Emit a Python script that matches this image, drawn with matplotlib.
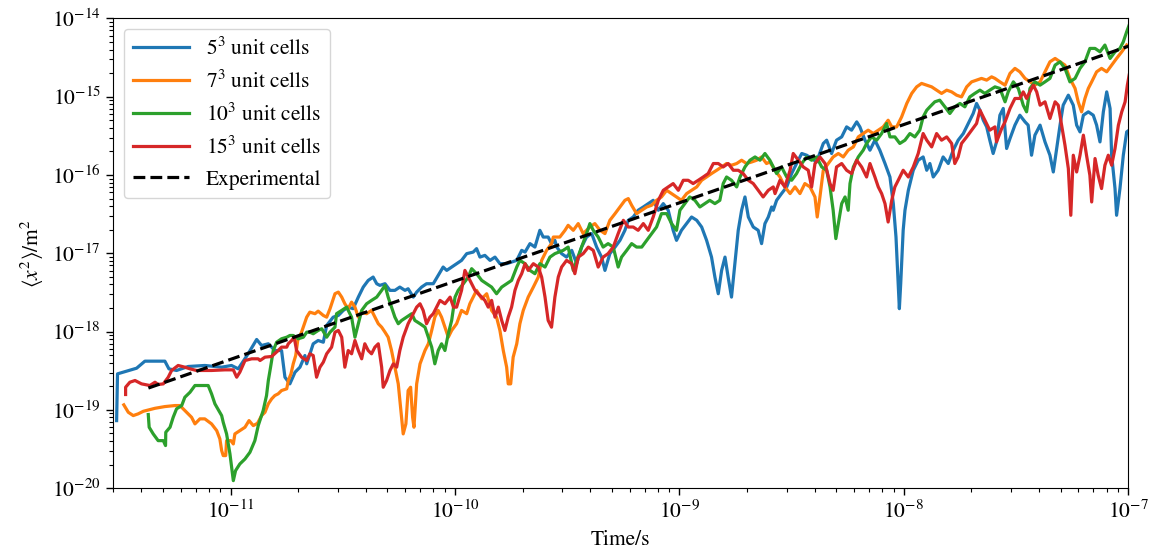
import numpy as np
import matplotlib
matplotlib.use("Agg")
import matplotlib.pyplot as plt

plt.rcParams['font.family'] = 'STIXGeneral'
plt.rcParams['mathtext.fontset'] = 'stix'
plt.rcParams['font.size'] = 15.5

# MSD traces, stored as (log10 time/s, log10 <x^2>/m^2)
cells5 = [
    (-11.508, -19.137), (-11.504, -18.540), (-11.419, -18.468), (-11.382, -18.378), (-11.293, -18.378),
    (-11.275, -18.476), (-11.241, -18.497), (-11.189, -18.446), (-11.115, -18.433), (-11.040, -18.455),
    (-10.996, -18.433), (-10.966, -18.476), (-10.922, -18.284), (-10.884, -18.101), (-10.862, -18.178),
    (-10.832, -18.156), (-10.803, -18.242), (-10.773, -18.242), (-10.758, -18.583), (-10.736, -18.668),
    (-10.713, -18.519), (-10.691, -18.455), (-10.669, -18.306), (-10.661, -18.412), (-10.632, -18.156),
    (-10.610, -18.114), (-10.587, -18.136), (-10.572, -17.922), (-10.543, -17.816), (-10.520, -17.794),
    (-10.498, -17.730), (-10.476, -17.688), (-10.454, -17.708), (-10.431, -17.560), (-10.409, -17.432),
    (-10.387, -17.347), (-10.365, -17.304), (-10.349, -17.389), (-10.335, -17.410), (-10.312, -17.389),
    (-10.290, -17.474), (-10.268, -17.474), (-10.246, -17.432), (-10.223, -17.474), (-10.209, -17.453),
    (-10.186, -17.560), (-10.171, -17.496), (-10.149, -17.432), (-10.127, -17.389), (-10.097, -17.389),
    (-10.075, -17.283), (-10.053, -17.176), (-10.037, -17.219), (-10.015, -17.176), (-9.993, -17.133),
    (-9.971, -17.091), (-9.948, -17.005), (-9.919, -16.985), (-9.904, -16.941), (-9.889, -17.049),
    (-9.867, -17.027), (-9.844, -17.091), (-9.822, -17.049), (-9.800, -17.133), (-9.770, -17.133),
    (-9.748, -17.112), (-9.725, -17.091), (-9.703, -16.963), (-9.688, -16.985), (-9.666, -16.877),
    (-9.644, -16.921), (-9.622, -16.707), (-9.607, -16.793), (-9.585, -16.793), (-9.570, -16.877),
    (-9.555, -16.835), (-9.547, -16.921), (-9.525, -17.005), (-9.503, -17.049), (-9.480, -16.963),
    (-9.458, -17.133), (-9.436, -16.921), (-9.414, -16.793), (-9.391, -16.749), (-9.369, -16.921),
    (-9.347, -17.049), (-9.332, -17.219), (-9.310, -17.005), (-9.287, -16.921), (-9.265, -16.835),
    (-9.243, -16.707), (-9.228, -16.579), (-9.206, -16.537), (-9.184, -16.451), (-9.161, -16.409),
    (-9.139, -16.366), (-9.117, -16.324), (-9.094, -16.451), (-9.072, -16.366), (-9.050, -16.451),
    (-9.028, -16.707), (-9.013, -16.835), (-8.991, -16.707), (-8.968, -16.621), (-8.946, -16.537),
    (-8.923, -16.579), (-8.901, -16.665), (-8.879, -16.835), (-8.857, -17.049), (-8.842, -17.304),
    (-8.827, -17.517), (-8.812, -17.219), (-8.797, -17.049), (-8.783, -17.304), (-8.768, -17.560),
    (-8.753, -17.133), (-8.738, -16.707), (-8.723, -16.451), (-8.708, -16.281), (-8.693, -16.537),
    (-8.671, -16.665), (-8.649, -16.707), (-8.634, -16.877), (-8.619, -16.621), (-8.604, -16.537),
    (-8.589, -16.409), (-8.582, -16.451), (-8.567, -16.324), (-8.545, -16.238), (-8.522, -16.153),
    (-8.500, -15.982), (-8.478, -15.854), (-8.455, -15.726), (-8.433, -15.748), (-8.411, -15.790),
    (-8.389, -15.834), (-8.359, -15.598), (-8.344, -15.556), (-8.322, -15.726), (-8.300, -15.556),
    (-8.277, -15.514), (-8.255, -15.386), (-8.233, -15.428), (-8.210, -15.322), (-8.196, -15.386),
    (-8.173, -15.556), (-8.151, -15.684), (-8.129, -15.556), (-8.107, -15.684), (-8.084, -15.854),
    (-8.062, -16.026), (-8.047, -16.366), (-8.035, -16.793), (-8.025, -17.389), (-8.020, -17.708),
    (-8.014, -17.389), (-8.003, -16.707), (-7.995, -16.451), (-7.980, -16.196), (-7.958, -15.940),
    (-7.936, -15.812), (-7.914, -15.770), (-7.898, -15.940), (-7.884, -15.854), (-7.869, -16.026),
    (-7.847, -15.940), (-7.825, -15.770), (-7.802, -15.854), (-7.780, -15.684), (-7.758, -15.556),
    (-7.735, -15.471), (-7.713, -15.343), (-7.691, -15.215), (-7.676, -15.087), (-7.661, -15.173),
    (-7.646, -15.301), (-7.631, -15.386), (-7.617, -15.556), (-7.602, -15.726), (-7.587, -15.578),
    (-7.572, -15.237), (-7.557, -15.151), (-7.542, -15.662), (-7.527, -15.535), (-7.505, -15.364),
    (-7.483, -15.237), (-7.460, -15.322), (-7.446, -15.364), (-7.431, -15.748), (-7.416, -15.492),
    (-7.393, -15.364), (-7.371, -15.578), (-7.349, -15.748), (-7.334, -15.962), (-7.319, -15.662),
    (-7.304, -15.364), (-7.290, -15.109), (-7.267, -14.981), (-7.245, -15.109), (-7.230, -15.364),
    (-7.215, -15.450), (-7.200, -15.237), (-7.178, -15.194), (-7.156, -15.237), (-7.141, -15.364),
    (-7.126, -15.578), (-7.111, -15.194), (-7.096, -14.939), (-7.081, -15.151), (-7.074, -15.748),
    (-7.059, -16.174), (-7.052, -16.515), (-7.037, -16.174), (-7.022, -15.748), (-7.007, -15.450),
    (-6.996, -15.428),
]

cells7 = [
    (-11.476, -18.936), (-11.456, -19.031), (-11.434, -19.073), (-11.412, -19.051), (-11.389, -19.018),
    (-11.337, -18.980), (-11.293, -18.958), (-11.248, -18.945), (-11.226, -18.945), (-11.204, -19.009),
    (-11.174, -19.095), (-11.159, -19.179), (-11.137, -19.115), (-11.115, -19.115), (-11.085, -19.179),
    (-11.062, -19.265), (-11.048, -19.371), (-11.040, -19.520), (-11.033, -19.584), (-11.022, -19.584),
    (-11.018, -19.393), (-10.999, -19.393), (-10.988, -19.435), (-10.981, -19.307), (-10.959, -19.265),
    (-10.936, -19.222), (-10.918, -19.137), (-10.899, -19.201), (-10.880, -19.171), (-10.862, -19.073),
    (-10.847, -19.031), (-10.832, -18.923), (-10.817, -18.859), (-10.803, -18.817), (-10.788, -18.795),
    (-10.773, -18.753), (-10.750, -18.731), (-10.743, -18.625), (-10.731, -18.540), (-10.721, -18.412),
    (-10.710, -18.306), (-10.701, -18.114), (-10.684, -18.008), (-10.661, -17.816), (-10.647, -17.752),
    (-10.624, -17.772), (-10.610, -17.739), (-10.587, -17.794), (-10.572, -17.816), (-10.557, -17.708),
    (-10.535, -17.517), (-10.520, -17.496), (-10.505, -17.560), (-10.491, -17.645), (-10.476, -17.708),
    (-10.461, -17.624), (-10.446, -17.688), (-10.431, -17.816), (-10.416, -17.752), (-10.394, -17.772),
    (-10.372, -17.730), (-10.357, -17.816), (-10.342, -17.900), (-10.327, -17.944), (-10.312, -18.008),
    (-10.298, -18.072), (-10.283, -18.242), (-10.268, -18.455), (-10.253, -18.668), (-10.238, -19.095),
    (-10.231, -19.307), (-10.219, -19.179), (-10.209, -18.753), (-10.198, -18.711), (-10.189, -19.095),
    (-10.183, -19.222), (-10.171, -18.668), (-10.156, -18.412), (-10.134, -18.242), (-10.119, -18.156),
    (-10.104, -17.986), (-10.090, -17.816), (-10.075, -17.730), (-10.060, -17.816), (-10.045, -17.944),
    (-10.030, -18.072), (-10.015, -17.986), (-9.993, -17.900), (-9.971, -17.730), (-9.948, -17.772),
    (-9.934, -17.645), (-9.919, -17.560), (-9.904, -17.474), (-9.881, -17.581), (-9.859, -17.517),
    (-9.837, -17.730), (-9.815, -17.816), (-9.800, -17.986), (-9.785, -18.242), (-9.770, -18.455),
    (-9.763, -18.668), (-9.752, -18.668), (-9.741, -18.327), (-9.725, -18.156), (-9.711, -17.900),
    (-9.696, -17.730), (-9.674, -17.560), (-9.651, -17.432), (-9.629, -17.304), (-9.614, -17.091),
    (-9.592, -16.963), (-9.570, -16.877), (-9.562, -16.793), (-9.533, -16.793), (-9.510, -16.707),
    (-9.496, -16.643), (-9.473, -16.707), (-9.451, -16.621), (-9.429, -16.749), (-9.399, -16.665),
    (-9.377, -16.621), (-9.354, -16.707), (-9.332, -16.749), (-9.310, -16.579), (-9.287, -16.494),
    (-9.265, -16.409), (-9.243, -16.324), (-9.228, -16.302), (-9.213, -16.387), (-9.191, -16.494),
    (-9.168, -16.451), (-9.146, -16.409), (-9.124, -16.387), (-9.102, -16.324), (-9.080, -16.281),
    (-9.057, -16.196), (-9.035, -16.238), (-9.013, -16.281), (-8.991, -16.324), (-8.968, -16.238),
    (-8.946, -16.196), (-8.923, -16.153), (-8.901, -16.068), (-8.879, -16.026), (-8.857, -15.982),
    (-8.834, -15.940), (-8.812, -15.898), (-8.790, -15.854), (-8.768, -15.876), (-8.745, -15.854),
    (-8.723, -15.812), (-8.701, -15.854), (-8.678, -15.834), (-8.656, -15.812), (-8.634, -15.770),
    (-8.612, -15.854), (-8.597, -15.834), (-8.574, -15.940), (-8.552, -16.026), (-8.530, -16.153),
    (-8.507, -16.238), (-8.485, -16.153), (-8.463, -16.238), (-8.441, -16.110), (-8.418, -16.153),
    (-8.396, -16.281), (-8.386, -16.537), (-8.374, -16.281), (-8.359, -15.940), (-8.337, -15.854),
    (-8.315, -15.770), (-8.292, -15.726), (-8.270, -15.770), (-8.248, -15.684), (-8.225, -15.642),
    (-8.203, -15.514), (-8.181, -15.471), (-8.159, -15.428), (-8.136, -15.471), (-8.114, -15.428),
    (-8.092, -15.386), (-8.070, -15.301), (-8.054, -15.386), (-8.032, -15.386), (-8.010, -15.259),
    (-7.987, -15.087), (-7.965, -14.959), (-7.943, -14.875), (-7.921, -14.831), (-7.898, -14.853),
    (-7.876, -14.875), (-7.854, -14.917), (-7.832, -14.959), (-7.809, -14.917), (-7.787, -14.939),
    (-7.765, -14.981), (-7.743, -15.003), (-7.720, -14.875), (-7.698, -14.811), (-7.676, -14.789),
    (-7.654, -14.767), (-7.631, -14.789), (-7.609, -14.747), (-7.594, -14.767), (-7.572, -14.811),
    (-7.549, -14.853), (-7.527, -14.703), (-7.505, -14.639), (-7.483, -14.683), (-7.460, -14.767),
    (-7.438, -14.811), (-7.416, -14.853), (-7.393, -14.811), (-7.371, -14.683), (-7.349, -14.555),
    (-7.326, -14.512), (-7.304, -14.555), (-7.282, -14.597), (-7.260, -14.767), (-7.237, -14.895),
    (-7.223, -15.066), (-7.208, -15.194), (-7.193, -15.023), (-7.178, -14.895), (-7.163, -14.811),
    (-7.141, -14.683), (-7.119, -14.639), (-7.096, -14.683), (-7.074, -14.597), (-7.052, -14.512),
    (-7.029, -14.427), (-7.007, -14.341),
]

cells10 = [
    (-11.367, -19.060), (-11.363, -19.222), (-11.345, -19.307), (-11.323, -19.393), (-11.300, -19.393),
    (-11.290, -19.456), (-11.289, -19.286), (-11.270, -19.222), (-11.256, -19.095), (-11.241, -18.987),
    (-11.218, -18.945), (-11.204, -18.839), (-11.181, -18.775), (-11.159, -18.689), (-11.100, -18.689),
    (-11.085, -18.795), (-11.070, -18.923), (-11.048, -19.031), (-11.040, -19.073), (-11.033, -19.159),
    (-11.018, -19.307), (-11.003, -19.563), (-10.988, -19.904), (-10.978, -19.776), (-10.959, -19.691),
    (-10.936, -19.627), (-10.914, -19.542), (-10.892, -19.393), (-10.877, -19.201), (-10.855, -19.009),
    (-10.840, -18.817), (-10.832, -18.625), (-10.822, -18.455), (-10.810, -18.242), (-10.795, -18.136),
    (-10.773, -18.092), (-10.750, -18.072), (-10.736, -18.050), (-10.721, -18.050), (-10.699, -18.092),
    (-10.676, -18.072), (-10.661, -18.008), (-10.647, -18.008), (-10.632, -18.028), (-10.610, -17.986),
    (-10.594, -17.964), (-10.572, -18.072), (-10.557, -18.008), (-10.535, -17.944), (-10.528, -17.772),
    (-10.505, -17.730), (-10.483, -17.688), (-10.461, -17.816), (-10.446, -18.072), (-10.431, -17.900),
    (-10.416, -17.730), (-10.394, -17.645), (-10.372, -17.602), (-10.349, -17.560), (-10.327, -17.474),
    (-10.312, -17.410), (-10.298, -17.560), (-10.283, -17.688), (-10.268, -17.816), (-10.253, -17.900),
    (-10.238, -17.858), (-10.216, -17.816), (-10.193, -17.772), (-10.179, -17.858), (-10.156, -17.900),
    (-10.134, -17.944), (-10.119, -18.072), (-10.104, -18.199), (-10.090, -18.412), (-10.075, -18.242),
    (-10.060, -18.156), (-10.045, -18.242), (-10.030, -18.028), (-10.015, -17.858), (-10.000, -17.560),
    (-9.986, -17.474), (-9.963, -17.389), (-9.941, -17.304), (-9.926, -17.197), (-9.904, -17.261),
    (-9.881, -17.347), (-9.859, -17.389), (-9.837, -17.432), (-9.815, -17.517), (-9.792, -17.432),
    (-9.770, -17.389), (-9.748, -17.347), (-9.725, -17.176), (-9.711, -17.091), (-9.688, -17.133),
    (-9.666, -17.219), (-9.644, -17.261), (-9.622, -17.133), (-9.599, -17.176), (-9.577, -17.049),
    (-9.555, -17.005), (-9.518, -16.963), (-9.496, -16.921), (-9.473, -17.219), (-9.458, -17.091),
    (-9.436, -16.921), (-9.414, -16.749), (-9.399, -16.621), (-9.384, -16.707), (-9.362, -16.793),
    (-9.340, -16.921), (-9.318, -16.877), (-9.295, -16.921), (-9.273, -17.176), (-9.258, -17.049),
    (-9.235, -16.963), (-9.213, -16.877), (-9.191, -16.921), (-9.168, -16.921), (-9.146, -16.835),
    (-9.124, -16.749), (-9.102, -16.665), (-9.080, -16.494), (-9.057, -16.494), (-9.035, -16.621),
    (-9.013, -16.707), (-8.998, -16.451), (-8.976, -16.366), (-8.954, -16.281), (-8.931, -16.324),
    (-8.909, -16.409), (-8.887, -16.366), (-8.865, -16.324), (-8.842, -16.366), (-8.820, -16.324),
    (-8.805, -16.110), (-8.790, -16.026), (-8.768, -16.068), (-8.745, -16.153), (-8.730, -16.026),
    (-8.708, -15.898), (-8.686, -15.812), (-8.663, -15.770), (-8.641, -15.812), (-8.619, -15.726),
    (-8.597, -15.812), (-8.567, -15.982), (-8.545, -15.898), (-8.522, -16.026), (-8.500, -16.068),
    (-8.478, -15.982), (-8.455, -15.854), (-8.433, -15.770), (-8.411, -15.812), (-8.389, -15.770),
    (-8.366, -15.898), (-8.344, -15.940), (-8.329, -16.153), (-8.315, -16.451), (-8.303, -16.813),
    (-8.292, -16.621), (-8.277, -16.366), (-8.262, -16.281), (-8.248, -16.451), (-8.240, -16.110),
    (-8.225, -15.898), (-8.203, -15.770), (-8.181, -15.684), (-8.166, -15.598), (-8.144, -15.514),
    (-8.121, -15.556), (-8.099, -15.471), (-8.077, -15.343), (-8.062, -15.514), (-8.040, -15.514),
    (-8.018, -15.598), (-7.995, -15.556), (-7.973, -15.471), (-7.951, -15.514), (-7.929, -15.428),
    (-7.914, -15.259), (-7.898, -15.173), (-7.884, -15.130), (-7.862, -15.066), (-7.840, -15.045),
    (-7.817, -15.130), (-7.795, -15.215), (-7.773, -15.130), (-7.750, -15.087), (-7.728, -15.130),
    (-7.706, -15.003), (-7.684, -14.959), (-7.661, -14.917), (-7.639, -14.959), (-7.617, -14.917),
    (-7.594, -14.875), (-7.572, -14.895), (-7.549, -15.066), (-7.535, -14.939), (-7.512, -14.811),
    (-7.490, -14.895), (-7.468, -15.109), (-7.453, -15.194), (-7.438, -14.895), (-7.416, -14.811),
    (-7.393, -14.853), (-7.371, -14.811), (-7.349, -14.767), (-7.326, -14.597), (-7.304, -14.555),
    (-7.282, -14.639), (-7.260, -14.811), (-7.237, -14.767), (-7.215, -14.639), (-7.193, -14.555),
    (-7.171, -14.384), (-7.148, -14.384), (-7.126, -14.427), (-7.104, -14.341), (-7.081, -14.512),
    (-7.059, -14.427), (-7.037, -14.384), (-7.022, -14.299), (-7.007, -14.171), (-6.996, -14.086),
]

cells15 = [
    (-11.468, -18.804), (-11.468, -18.711), (-11.449, -18.647), (-11.426, -18.625), (-11.397, -18.668),
    (-11.360, -18.689), (-11.337, -18.647), (-11.323, -18.676), (-11.300, -18.668), (-11.278, -18.583),
    (-11.263, -18.497), (-11.234, -18.433), (-11.204, -18.455), (-11.181, -18.476), (-11.152, -18.497),
    (-11.129, -18.497), (-11.085, -18.497), (-11.025, -18.489), (-10.988, -18.489), (-10.973, -18.583),
    (-10.959, -18.519), (-10.936, -18.370), (-10.906, -18.348), (-10.877, -18.348), (-10.869, -18.370),
    (-10.847, -18.327), (-10.817, -18.318), (-10.788, -18.242), (-10.773, -18.199), (-10.750, -18.199),
    (-10.743, -18.156), (-10.728, -18.114), (-10.717, -18.072), (-10.706, -18.242), (-10.684, -18.327),
    (-10.661, -18.370), (-10.647, -18.284), (-10.632, -18.306), (-10.617, -18.583), (-10.602, -18.455),
    (-10.587, -18.391), (-10.572, -18.284), (-10.550, -18.199), (-10.535, -18.008), (-10.520, -17.986),
    (-10.505, -18.072), (-10.491, -18.455), (-10.476, -18.242), (-10.461, -18.284), (-10.446, -18.114),
    (-10.431, -18.242), (-10.416, -18.348), (-10.402, -18.156), (-10.387, -18.242), (-10.372, -18.284),
    (-10.357, -18.199), (-10.342, -18.156), (-10.327, -18.455), (-10.320, -18.711), (-10.305, -18.625),
    (-10.290, -18.497), (-10.275, -18.412), (-10.260, -18.455), (-10.246, -18.242), (-10.231, -18.072),
    (-10.209, -17.900), (-10.186, -17.772), (-10.171, -17.688), (-10.156, -17.645), (-10.142, -17.730),
    (-10.127, -17.900), (-10.112, -17.816), (-10.097, -17.772), (-10.082, -17.688), (-10.067, -17.602),
    (-10.045, -17.645), (-10.022, -17.560), (-10.007, -17.688), (-9.993, -17.688), (-9.971, -17.474),
    (-9.956, -17.219), (-9.941, -17.304), (-9.926, -17.389), (-9.911, -17.474), (-9.897, -17.517),
    (-9.881, -17.560), (-9.867, -17.602), (-9.852, -17.688), (-9.837, -17.602), (-9.822, -17.816),
    (-9.807, -17.688), (-9.792, -17.858), (-9.778, -17.986), (-9.763, -17.816), (-9.748, -17.688),
    (-9.733, -17.474), (-9.718, -17.347), (-9.703, -17.261), (-9.688, -17.133), (-9.674, -17.219),
    (-9.651, -17.133), (-9.629, -17.176), (-9.614, -17.304), (-9.599, -17.560), (-9.585, -17.858),
    (-9.570, -17.944), (-9.555, -17.560), (-9.540, -17.304), (-9.525, -17.176), (-9.503, -17.091),
    (-9.480, -17.133), (-9.466, -17.261), (-9.451, -17.049), (-9.429, -17.005), (-9.406, -16.921),
    (-9.384, -16.963), (-9.362, -17.176), (-9.340, -17.049), (-9.318, -17.005), (-9.295, -16.921),
    (-9.273, -16.749), (-9.250, -16.579), (-9.228, -16.665), (-9.206, -16.665), (-9.184, -16.707),
    (-9.161, -16.621), (-9.139, -16.707), (-9.117, -16.537), (-9.094, -16.324), (-9.072, -16.196),
    (-9.050, -16.153), (-9.028, -16.110), (-9.005, -16.196), (-8.983, -16.068), (-8.961, -16.068),
    (-8.939, -16.110), (-8.916, -16.068), (-8.894, -16.026), (-8.872, -15.982), (-8.849, -15.854),
    (-8.827, -15.854), (-8.805, -15.898), (-8.783, -15.854), (-8.760, -15.940), (-8.738, -15.940),
    (-8.716, -15.982), (-8.693, -16.068), (-8.671, -16.110), (-8.649, -16.196), (-8.627, -16.281),
    (-8.604, -16.196), (-8.582, -16.153), (-8.574, -16.238), (-8.552, -16.068), (-8.530, -16.153),
    (-8.507, -15.940), (-8.493, -15.726), (-8.470, -15.812), (-8.448, -15.898), (-8.426, -15.940),
    (-8.411, -16.153), (-8.396, -15.854), (-8.374, -15.770), (-8.351, -15.854), (-8.329, -16.110),
    (-8.315, -16.196), (-8.300, -15.898), (-8.277, -15.854), (-8.255, -15.940), (-8.233, -15.982),
    (-8.210, -15.812), (-8.188, -15.898), (-8.166, -16.026), (-8.151, -15.854), (-8.129, -16.026),
    (-8.114, -16.153), (-8.099, -16.238), (-8.084, -16.366), (-8.070, -16.601), (-8.054, -16.324),
    (-8.040, -16.153), (-8.025, -16.068), (-8.003, -15.940), (-7.980, -16.026), (-7.958, -15.898),
    (-7.936, -15.726), (-7.914, -15.471), (-7.898, -15.556), (-7.876, -15.642), (-7.854, -15.471),
    (-7.832, -15.556), (-7.809, -15.514), (-7.787, -15.598), (-7.773, -15.854), (-7.758, -15.770),
    (-7.743, -15.598), (-7.720, -15.514), (-7.698, -15.428), (-7.676, -15.343), (-7.661, -15.173),
    (-7.639, -15.301), (-7.617, -15.428), (-7.594, -15.386), (-7.587, -15.578), (-7.564, -15.407),
    (-7.549, -15.322), (-7.527, -15.151), (-7.505, -15.023), (-7.483, -15.023), (-7.468, -14.939),
    (-7.453, -15.023), (-7.438, -14.939), (-7.423, -14.853), (-7.408, -14.939), (-7.393, -15.109),
    (-7.371, -15.066), (-7.349, -15.279), (-7.326, -15.066), (-7.312, -15.109), (-7.297, -15.364),
    (-7.282, -15.620), (-7.267, -15.918), (-7.256, -16.515), (-7.245, -15.748), (-7.230, -15.962),
    (-7.215, -15.748), (-7.200, -15.492), (-7.186, -15.748), (-7.171, -16.004), (-7.163, -16.345),
    (-7.148, -15.790), (-7.134, -16.004), (-7.119, -16.174), (-7.104, -15.876), (-7.089, -15.748),
    (-7.074, -15.876), (-7.059, -15.662), (-7.044, -15.364), (-7.029, -15.194), (-7.014, -15.066),
    (-7.004, -14.853), (-6.996, -14.725),
]

# experimental diffusion line, <x^2> proportional to t
exp_time = [4.3e-12, 1.0e-7]
exp_msd = [1.9e-19, 4.4e-15]

series = [
    (cells5, r'$5^3$ unit cells', 'tab:blue'),
    (cells7, r'$7^3$ unit cells', 'tab:orange'),
    (cells10, r'$10^3$ unit cells', 'tab:green'),
    (cells15, r'$15^3$ unit cells', 'tab:red'),
]

fig, ax = plt.subplots(figsize=(11.56, 5.56), dpi=100)
fig.subplots_adjust(left=0.098, right=0.976, top=0.967, bottom=0.122)

for pts, label, color in series:
    arr = np.array(pts)
    ax.plot(10 ** arr[:, 0], 10 ** arr[:, 1], color=color, lw=2.3, label=label)

ax.plot(exp_time, exp_msd, 'k--', lw=2.3, label='Experimental')

ax.set_xscale('log')
ax.set_yscale('log')
ax.set_xlim(3e-12, 1e-7)
ax.set_ylim(1e-20, 1e-14)
ax.set_xticks([1e-11, 1e-10, 1e-9, 1e-8, 1e-7])
ax.set_yticks([1e-20, 1e-19, 1e-18, 1e-17, 1e-16, 1e-15, 1e-14])
ax.set_xlabel('Time/s', labelpad=5)
ax.set_ylabel(r'$\langle x^2\rangle/\mathrm{m}^2$', labelpad=4)
ax.tick_params(which='major', length=5, width=1, pad=4)
ax.tick_params(which='minor', length=3, width=0.8)
ax.legend(loc='upper left', handlelength=2.6, fontsize=15.5)

fig.savefig('out.png', dpi=100)
